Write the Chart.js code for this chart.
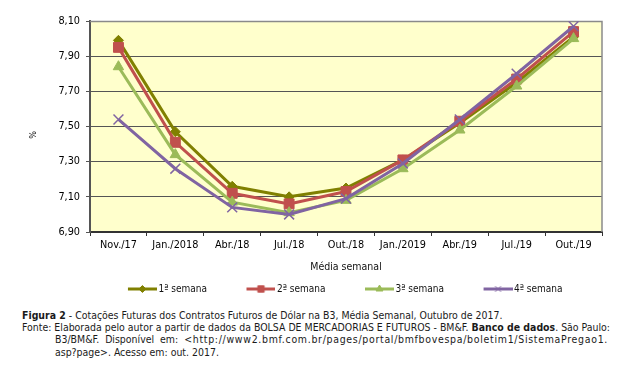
<!DOCTYPE html>
<html><head><meta charset="utf-8">
<script src="https://cdn.jsdelivr.net/npm/chart.js@4.4.0/dist/chart.umd.min.js"></script>
<style>
html,body{margin:0;padding:0;background:#fff;}
body{width:641px;height:381px;position:relative;overflow:hidden;font-family:"DejaVu Sans Condensed","DejaVu Sans",sans-serif;color:#111;}
#wrap{position:absolute;left:0;top:0;width:641px;height:304px;}
#pct{position:absolute;left:27px;top:129px;width:12px;height:12px;line-height:12px;text-align:center;font-size:9px;transform:rotate(-90deg);}
.cap{position:absolute;line-height:13px;height:13px;color:#1a1a1a;}
.nw{white-space:nowrap;}
.just{text-align:justify;text-align-last:justify;white-space:normal;}
</style></head><body>
<div id="wrap"><canvas id="c"></canvas></div>
<div id="pct">%</div>
<div class="cap nw" id="l1" style="left:22px;top:309px;"><b>Figura 2</b> - Cotações Futuras dos Contratos Futuros de Dólar na B3, Média Semanal, Outubro de 2017.</div>
<div class="cap just" id="l2" style="left:22px;top:321px;width:588px;">Fonte: Elaborada pelo autor a partir de dados da BOLSA DE MERCADORIAS E FUTUROS - BM&amp;F. <b>Banco de dados</b>. São Paulo:</div>
<div class="cap nw" id="l3" style="left:55px;top:333px;"><span id="l3a" style="word-spacing:3px;">B3/BM&amp;F. Disponível em: </span><span id="l3b">&lt;http://www2.bmf.com.br/pages/portal/bmfbovespa/boletim1/SistemaPregao1.</span></div>
<div class="cap nw" id="l4" style="left:55px;top:346px;">asp?page&gt;. Acesso em: out. 2017.</div>
<script>
// ---- data ----
const categories = ['Nov./17','Jan./2018','Abr./18','Jul./18','Out./18','Jan./2019','Abr./19','Jul./19','Out./19'];
const seriesNames = ['1ª semana','2ª semana','3ª semana','4ª semana'];
const semana1 = [7.99, 7.47, 7.16, 7.10, 7.15, 7.31, 7.52, 7.75, 8.01];
const semana2 = [7.95, 7.41, 7.12, 7.06, 7.13, 7.31, 7.53, 7.77, 8.04];
const semana3 = [7.84, 7.34, 7.07, 7.01, 7.08, 7.26, 7.48, 7.73, 8.00];
const semana4 = [7.54, 7.26, 7.04, 7.00, 7.09, 7.29, 7.54, 7.80, 8.07];
const yTicks = [6.90, 7.10, 7.30, 7.50, 7.70, 7.90, 8.10];
const xTitle = 'Média semanal';

// ---- caption font fitting ----
(function(){
  const l1 = document.getElementById('l1');
  l1.style.fontSize = '10px';
  const w = l1.getBoundingClientRect().width;
  const fs = 10 * 481 / w;
  ['l1','l2','l3','l4'].forEach(id => document.getElementById(id).style.fontSize = fs.toFixed(2) + 'px');
  const l3 = document.getElementById('l3'), l3b = document.getElementById('l3b');
  const extra = 553 - l3.getBoundingClientRect().width;
  const n = l3b.textContent.length;
  if (extra > 0) l3b.style.letterSpacing = (extra / n).toFixed(3) + 'px';
})();

const colors = ['#808000', '#C0504D', '#9BBB59', '#8064A2'];
const styles = ['rectRot', 'rect', 'triangle', 'crossRot'];
const radii = [5, 7, 6, 7];
const legendRadii = [3.5, 4.5, 4, 4];
const FONT = {family: '"DejaVu Sans Condensed","DejaVu Sans",sans-serif', size: 10};
const TICKFONT = {family: '"DejaVu Sans Condensed","DejaVu Sans",sans-serif', size: 10.8};

const BW = 55;
function swatch(i) {
  const W = BW + 7, H = 12;
  const cv = document.createElement('canvas');
  cv.width = W; cv.height = H;
  const ctx = cv.getContext('2d');
  ctx.strokeStyle = colors[i]; ctx.fillStyle = colors[i];
  ctx.lineWidth = 3;
  ctx.beginPath(); ctx.moveTo(W - 29, H/2); ctx.lineTo(W, H/2); ctx.stroke();
  ctx.lineWidth = 1;
  Chart.helpers.drawPoint(ctx, {pointStyle: styles[i], radius: legendRadii[i], rotation: 0, borderWidth: 1}, W - 14.5, H/2);
  return cv;
}

const allData = [semana1, semana2, semana3, semana4];
const datasets = allData.map((d, i) => ({
  label: seriesNames[i],
  data: d,
  borderColor: colors[i],
  backgroundColor: colors[i],
  borderWidth: 3,
  pointStyle: styles[i],
  pointRadius: radii[i],
  pointBorderWidth: i === 3 ? 1.5 : 1,
  pointBackgroundColor: colors[i],
  pointBorderColor: colors[i],
  tension: 0,
  order: 4 - i
}));

const bgPlugin = {
  id: 'bg',
  beforeDraw(chart) {
    const a = chart.chartArea, ctx = chart.ctx;
    ctx.save();
    ctx.fillStyle = '#FFFFCC';
    ctx.fillRect(a.left, a.top, a.right - a.left, a.bottom - a.top);
    ctx.restore();
  },
  beforeDatasetsDraw(chart) {
    const a = chart.chartArea, ctx = chart.ctx;
    ctx.save();
    ctx.strokeStyle = '#8a8a8a'; ctx.lineWidth = 1.5;
    ctx.beginPath(); ctx.moveTo(a.left, a.top + 0.5); ctx.lineTo(a.right, a.top + 0.5);
    ctx.lineTo(a.right, a.bottom); ctx.stroke();
    ctx.restore();
  }
};

new Chart(document.getElementById('c'), {
  type: 'line',
  data: {labels: categories, datasets},
  plugins: [bgPlugin],
  options: {
    responsive: true,
    maintainAspectRatio: false,
    animation: false,
    devicePixelRatio: 1,
    layout: {padding: {left: 20, right: 0, top: 21, bottom: 0}},
    plugins: {
      tooltip: {enabled: false},
      legend: {
        position: 'bottom',
        labels: {
          usePointStyle: true,
          pointStyleWidth: BW,
          padding: 10,
          color: '#111',
          font: FONT,
          generateLabels: (chart) => seriesNames.map((n, i) => ({
            text: n, pointStyle: swatch(i), fillStyle: colors[i], strokeStyle: colors[i],
            lineWidth: 0, hidden: false, datasetIndex: i, fontColor: '#111'
          }))
        }
      }
    },
    scales: {
      x: {
        type: 'category',
        offset: true,
        afterFit: (s) => { s.height = 42; },
        grid: {display: true, drawOnChartArea: false, drawTicks: true, tickLength: 4, color: '#333', offset: true},
        border: {display: true, color: '#333', width: 2},
        ticks: {color: '#000', font: TICKFONT, padding: 3, maxRotation: 0, autoSkip: false},
        title: {display: true, text: xTitle, color: '#111', font: {family: FONT.family, size: 10.5}, padding: {top: 0, bottom: 0}}
      },
      y: {
        position: 'left',
        min: yTicks[0], max: yTicks[yTicks.length - 1],
        afterFit: (s) => { s.width = 70; },
        afterBuildTicks: (s) => { s.ticks = yTicks.map(v => ({value: v})); },
        grid: {color: '#555', lineWidth: 1, drawTicks: true, tickLength: 4},
        border: {display: true, color: '#555', width: 2},
        ticks: {color: '#000', font: TICKFONT, padding: 6, callback: (v) => Number(v).toFixed(2).replace('.', ',')}
      },
      yRight: {
        type: 'linear',
        position: 'right',
        display: true,
        afterFit: (s) => { s.width = 39; },
        grid: {display: false, drawOnChartArea: false},
        border: {display: false},
        ticks: {display: false}
      }
    }
  }
});
</script>
</body></html>
